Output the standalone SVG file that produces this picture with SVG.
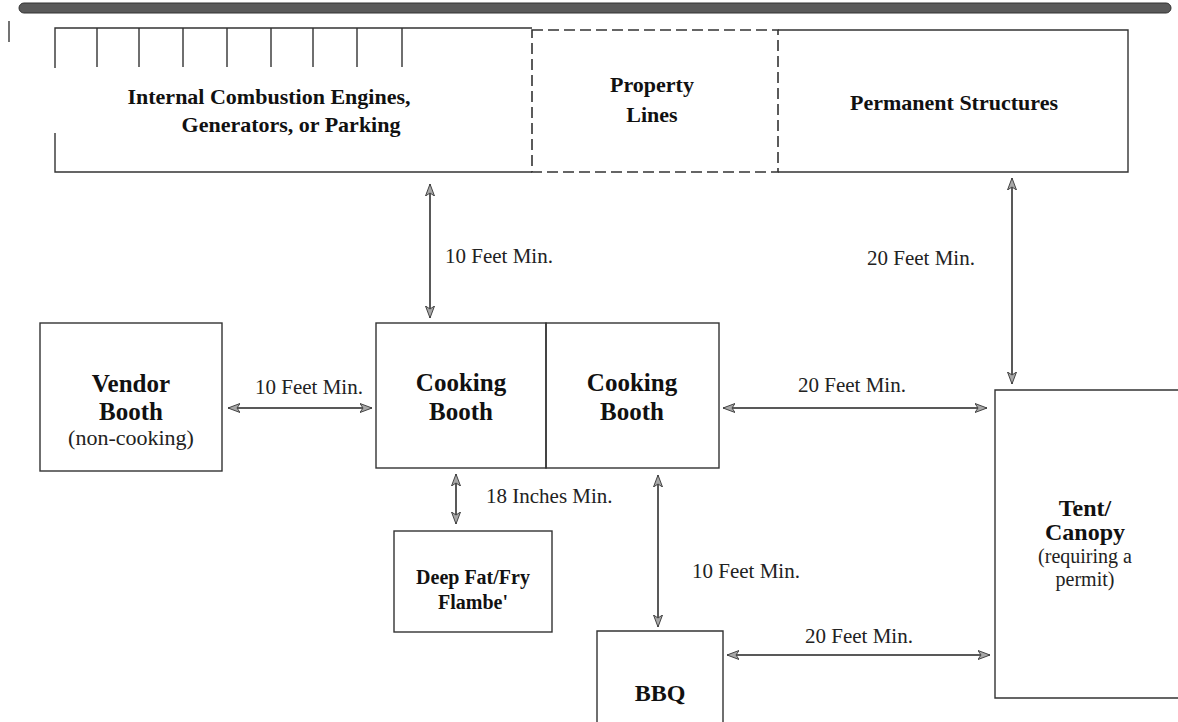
<svg xmlns="http://www.w3.org/2000/svg" width="1178" height="722" viewBox="0 0 1178 722">
<style>
.box{fill:none;stroke:#333;stroke-width:1.4}
.dash{fill:none;stroke:#333;stroke-width:1.6;stroke-dasharray:11 5}
.t{font-family:"Liberation Serif","Times New Roman",serif;font-weight:bold;fill:#111;text-anchor:middle}
.s{font-family:"Liberation Serif","Times New Roman",serif;fill:#222;text-anchor:middle}
.lbl{font-family:"Liberation Serif","Times New Roman",serif;font-size:21px;fill:#222}
.arr{stroke:#222;stroke-width:1.5;fill:none;marker-start:url(#ah);marker-end:url(#ah)}
</style>
<defs>
<marker id="ah" markerUnits="userSpaceOnUse" markerWidth="13" markerHeight="11" refX="12" refY="5" orient="auto-start-reverse" viewBox="0 0 13 11">
<path d="M0,0.5 L12,5 L0,9.5 L3,5 z" fill="#a8a8a8" stroke="#444" stroke-width="1"/>
</marker>
</defs>
<rect x="19" y="3" width="1152" height="10" rx="5" fill="#5a5a5a" stroke="#333" stroke-width="1"/>
<line x1="9" y1="21" x2="9" y2="42" stroke="#444" stroke-width="1.5"/>

<g id="engines">
<path class="box" d="M55,68 V28 H532 M55,133 V172 H532"/>
<path class="box" d="M97,28 V67 M139,28 V67 M183,28 V67 M227,28 V67 M271,28 V67 M313,28 V67 M357,28 V67 M402,28 V67"/>
<text class="t" font-size="22" x="269" y="104">Internal Combustion Engines,</text>
<text class="t" font-size="22" x="291" y="132">Generators, or Parking</text>
</g>
<g id="property">
<rect class="dash" x="532" y="30" width="246" height="142"/>
<text class="t" font-size="22" x="652" y="92">Property</text>
<text class="t" font-size="22" x="652" y="122">Lines</text>
</g>
<g id="permanent">
<path class="box" d="M778,30 H1128 V172 H778"/>
<text class="t" font-size="22" x="954" y="110">Permanent Structures</text>
</g>
<g id="vendor">
<rect class="box" x="40" y="323" width="182" height="148"/>
<text class="t" font-size="25" x="131" y="392">Vendor</text>
<text class="t" font-size="25" x="131" y="420">Booth</text>
<text class="s" font-size="22" x="131" y="445">(non-cooking)</text>
</g>
<g id="cooking1">
<rect class="box" x="376" y="323" width="170" height="145"/>
<text class="t" font-size="25" x="461" y="391">Cooking</text>
<text class="t" font-size="25" x="461" y="420">Booth</text>
</g>
<g id="cooking2">
<rect class="box" x="546" y="323" width="173" height="145"/>
<text class="t" font-size="25" x="632" y="391">Cooking</text>
<text class="t" font-size="25" x="632" y="420">Booth</text>
</g>
<g id="deepfat">
<rect class="box" x="394" y="531" width="158" height="101"/>
<text class="t" font-size="20" x="473" y="584">Deep Fat/Fry</text>
<text class="t" font-size="20" x="473" y="609">Flambe'</text>
</g>
<g id="bbq">
<path class="box" d="M597,730 V631 H723 V730"/>
<text class="t" font-size="24" x="660" y="701">BBQ</text>
</g>
<g id="tent">
<path class="box" d="M1185,390 H995 V698 H1185"/>
<text class="t" font-size="24" x="1085" y="516">Tent/</text>
<text class="t" font-size="24" x="1085" y="540">Canopy</text>
<text class="s" font-size="20" x="1085" y="563">(requiring a</text>
<text class="s" font-size="20" x="1085" y="586">permit)</text>
</g>
<g id="connectors">
<line class="arr" x1="430" y1="184" x2="430" y2="318"/>
<line class="arr" x1="1012" y1="178" x2="1012" y2="384"/>
<line class="arr" x1="228" y1="408" x2="372" y2="408"/>
<line class="arr" x1="723" y1="408" x2="987" y2="408"/>
<line class="arr" x1="456" y1="474" x2="456" y2="524"/>
<line class="arr" x1="658" y1="475" x2="658" y2="627"/>
<line class="arr" x1="727" y1="655" x2="990" y2="655"/>
<text class="lbl" x="445" y="263">10 Feet Min.</text>
<text class="lbl" x="867" y="265">20 Feet Min.</text>
<text class="lbl" x="255" y="394">10 Feet Min.</text>
<text class="lbl" x="798" y="392">20 Feet Min.</text>
<text class="lbl" x="486" y="503">18 Inches Min.</text>
<text class="lbl" x="692" y="578">10 Feet Min.</text>
<text class="lbl" x="805" y="643">20 Feet Min.</text>
</g>
</svg>
